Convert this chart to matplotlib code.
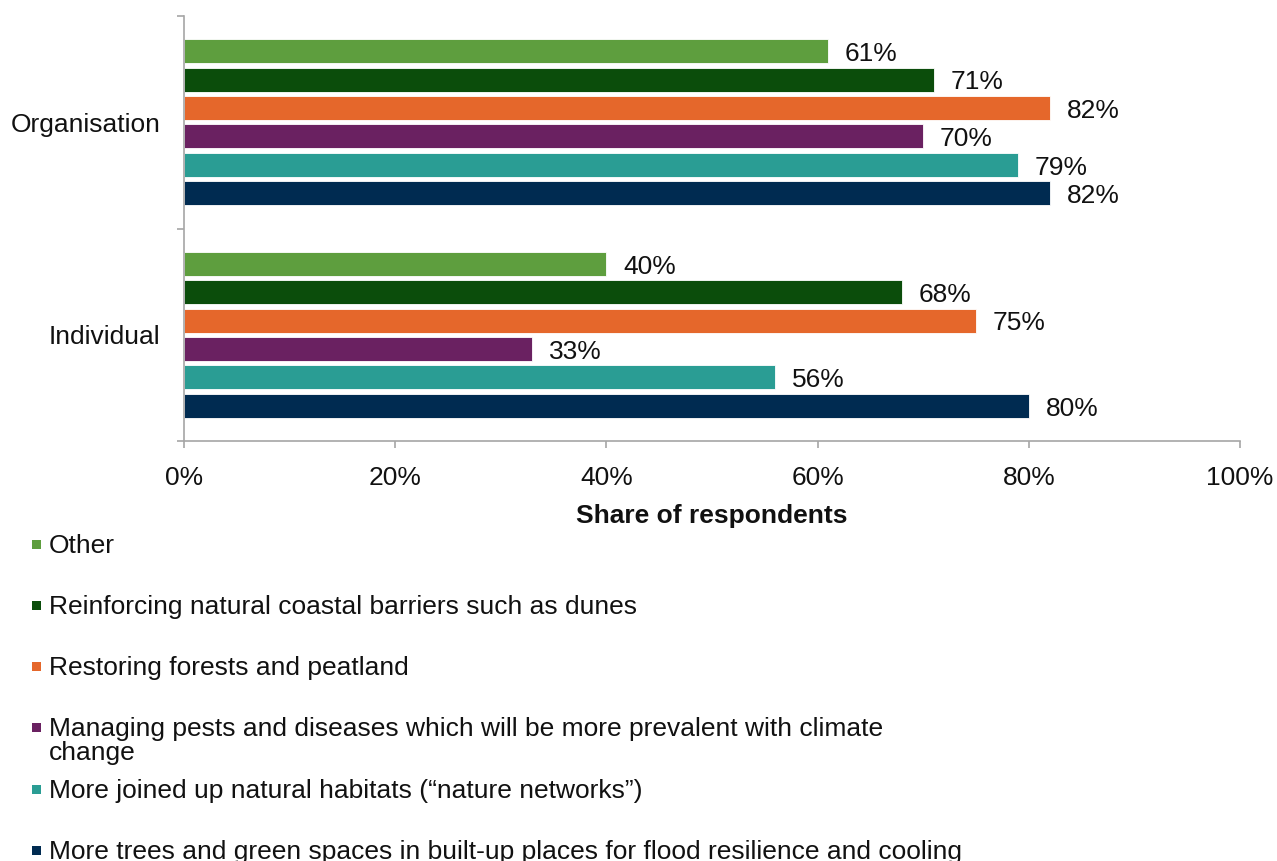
import matplotlib
matplotlib.use("Agg")
import matplotlib.pyplot as plt
from matplotlib.patches import Rectangle
from matplotlib.ticker import FuncFormatter, FixedLocator

plt.rcParams["font.family"] = ["Liberation Sans", "DejaVu Sans"]

# Respondent groups (top to bottom on the chart)
categories = ["Organisation", "Individual"]

# Nature-based measures, in the order drawn within each group
measures = [
    "Other",
    "Reinforcing natural coastal barriers such as dunes",
    "Restoring forests and peatland",
    "Managing pests and diseases which will be more prevalent with climate\nchange",
    "More joined up natural habitats (\u201cnature networks\u201d)",
    "More trees and green spaces in built-up places for flood resilience and cooling",
]

# Share of respondents (%) per measure
organisation_pct = [61, 71, 82, 70, 79, 82]
individual_pct = [40, 68, 75, 33, 56, 80]

colors = ["#5E9E3E", "#0B4D0B", "#E5672B", "#6A2161", "#2A9D94", "#002B51"]

xticks = [0, 20, 40, 60, 80, 100]

FS = 19
GREY = "#A6A6A6"
TXT = "#111111"

fig = plt.figure(figsize=(12.77, 8.61), dpi=100)
ax = fig.add_axes([0.1441, 0.4878, 0.8269, 0.4936])

values = [organisation_pct, individual_pct]
centers = [1.5, 0.5]
pitch = 0.1336
height = 0.113

for c, vals in zip(centers, values):
    for i, (v, col) in enumerate(zip(vals, colors)):
        y = c + (2.5 - i) * pitch
        ax.barh(y, v, height=height, color=col, edgecolor="white", linewidth=0.6)
        ax.annotate(f"{v}%", xy=(v, y), xytext=(12, -2), textcoords="offset points",
                    ha="left", va="center", fontsize=FS, color=TXT)

ax.set_xlim(0, 100)
ax.set_ylim(0, 2)

ax.set_xticks(xticks)
ax.xaxis.set_major_formatter(FuncFormatter(lambda v, p: f"{v:.0f}%"))
ax.tick_params(axis="x", length=5, width=1.2, color=GREY, pad=13, labelsize=FS,
               labelcolor=TXT)

ax.set_yticks(centers)
ax.set_yticklabels(categories)
ax.yaxis.set_minor_locator(FixedLocator([0, 1, 2]))
ax.tick_params(axis="y", which="major", length=0, pad=17, labelsize=FS,
               labelcolor=TXT)
ax.tick_params(axis="y", which="minor", length=5, width=1.2, color=GREY)

for s in ["top", "right"]:
    ax.spines[s].set_visible(False)
for s in ["left", "bottom"]:
    ax.spines[s].set_color(GREY)
    ax.spines[s].set_linewidth(1.2)

ax.set_xlabel("Share of respondents", fontsize=FS, fontweight="bold",
              labelpad=10, color=TXT)

# Legend: one row per measure, drawn in figure pixels
W, H = 1277, 861
row_y = [545, 606, 667, 728, 790, 851]
for label, col, yp in zip(measures, colors, row_y):
    fig.patches.append(Rectangle((32 / W, 1 - (yp + 4) / H), 9 / W, 9 / H,
                                 transform=fig.transFigure, facecolor=col,
                                 edgecolor="none"))
    lines = label.split("\n")
    for k, line in enumerate(lines):
        fig.text(49 / W, 1 - (yp + 1 + 24 * k) / H, line, ha="left", va="center",
                 fontsize=FS, color=TXT)

fig.savefig("out.png", dpi=100)
